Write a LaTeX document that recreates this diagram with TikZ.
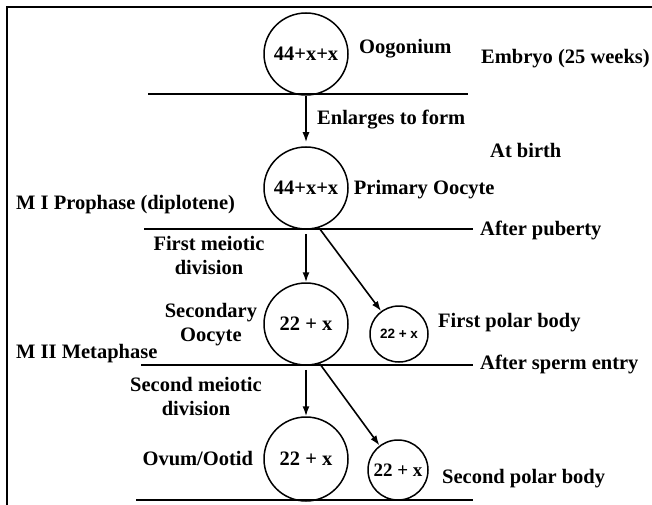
\documentclass[tikz,border=0pt]{standalone}
\usepackage{fontspec}
\setmainfont{Liberation Serif}
\setsansfont{Liberation Sans}
\usetikzlibrary{arrows.meta,positioning,shapes.geometric}

\begin{document}
\begin{tikzpicture}[x=1pt,y=-1pt,font=\fontsize{20.5}{24}\selectfont\bfseries]
\tikzstyle{cell}=[ellipse,draw=black,line width=1.5pt,inner sep=0pt,minimum width=84pt,minimum height=82pt]
\tikzstyle{polar}=[cell,minimum width=58pt,minimum height=56pt]
\tikzstyle{stage}=[inner sep=0pt,anchor=west,text height=13.6pt,text depth=0pt]
\tikzstyle{twoline}=[inner sep=0pt,align=center]
\tikzstyle{divide}=[-,line width=2pt]
\tikzstyle{develop}=[-{Latex[length=10pt,width=7pt]},line width=1.6pt]

\useasboundingbox (0,0) rectangle (652,505);
\draw[line width=2pt] (652,7) -- (7,7) -- (7,505);

% cells
\node[cell,label=center:{44+x+x}] (oog) at (306,54) {};
\node[cell,label=center:{44+x+x}] (prim) at (306,188) {};
\node[cell,label=center:{22 + x}] (sec) at (306,324) {};
\node[polar,label={[font=\sffamily\bfseries\fontsize{13.5}{16}\selectfont]center:{22 + x}}] (pol1) at (399,334) {};
\node[cell,minimum height=84pt,label=center:{22 + x}] (ovum) at (306,459) {};
\node[polar,minimum width=60pt,minimum height=60pt,label={[font=\bfseries\fontsize{19}{22}\selectfont]center:{22 + x}}] (pol2) at (398,470) {};

% names
\node[stage] (oog_name) at (359,47) {Oogonium};
\node[stage] (prim_name) [right = 5pt of prim] {Primary Oocyte};
\node[twoline] (sec_name) [left = 6pt of sec, yshift=-1pt] {Secondary\\Oocyte};
\node[stage] (pol1_name) at (438,321) {First polar body};
\node[stage,anchor=east] (ovum_name) [left = 10pt of ovum] {Ovum/Ootid};
\node[stage] (pol2_name) at (442,477) {Second polar body};

% stages
\node[stage] (embryo) at (481,57) {Embryo (25 weeks)};
\node[stage] (birth) at (490,151) {At birth};
\node[stage] (prophase) at (16,203) {M I Prophase (diplotene)};
\node[stage] (puberty) at (480,229) {After puberty};
\node[stage] (metaphase) at (16,352) {M II Metaphase};
\node[stage] (sperm) at (480,363) {After sperm entry};
\node[stage] (enlarge) at (317,118) {Enlarges to form};
\node[twoline] (div1) at (209,255) {First meiotic\\division};
\node[twoline] (div2) at (196,396) {Second meiotic\\division};

% lines
\draw[divide] (148,94) -- (468,94);
\draw[divide] (144,229) -- (473,229);
\draw[divide] (141,365) -- (473,365);
\draw[divide] (136,500) -- (473,500);

\path
  (oog) edge [develop, shorten >=4pt] (prim)
  (prim) edge [develop, shorten <=4pt] (sec)
  (prim.-72) edge [develop] (pol1.128)
  (sec) edge [develop, shorten <=4pt] (ovum)
  (sec.-71) edge [develop] (pol2.127);
\end{tikzpicture}
\end{document}
